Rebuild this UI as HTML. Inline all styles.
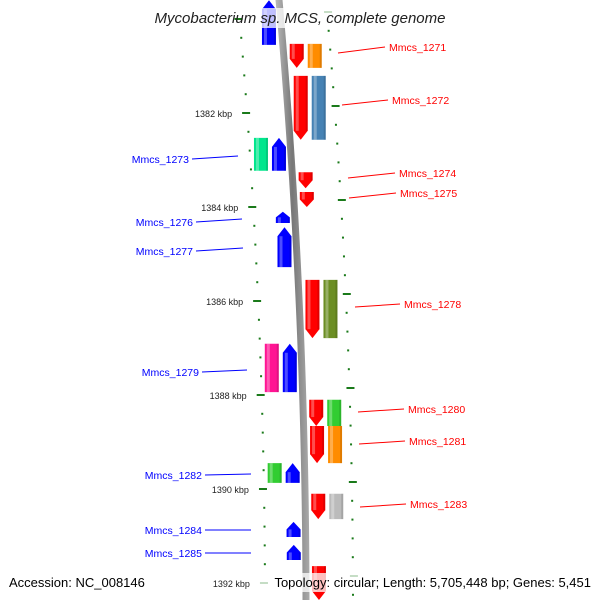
<!DOCTYPE html>
<html><head><meta charset="utf-8"><style>
body{margin:0;background:#fff;overflow:hidden}
svg{display:block;font-family:"Liberation Sans",sans-serif}
</style></head><body>
<svg id="c" width="600" height="600" viewBox="0 0 600 600" xmlns="http://www.w3.org/2000/svg">
<defs>
<linearGradient id="bb" x1="0" x2="1"><stop offset="0" stop-color="#bbb"/><stop offset="0.5" stop-color="#777"/><stop offset="1" stop-color="#aaa"/></linearGradient>
</defs>
<g id="ticks"></g>
<g id="bbg"></g>
<g id="genes"></g>
<g id="labels"></g>
<text x="300" y="23" text-anchor="middle" font-size="15" font-style="italic" fill="#222">Mycobacterium sp. MCS, complete genome</text>
<rect x="255" y="573" width="340" height="19" fill="#fff" opacity="0.75"/>
<text x="9" y="587" font-size="13" fill="#000">Accession: NC_008146</text>
<text x="591" y="587" text-anchor="end" font-size="13" fill="#000">Topology: circular; Length: 5,705,448 bp; Genes: 5,451</text>
</svg>
<script>
const geneNames=["","Mmcs_1271","Mmcs_1272","Mmcs_1273","Mmcs_1274","Mmcs_1275","Mmcs_1276","Mmcs_1277","Mmcs_1278","Mmcs_1279","Mmcs_1280","Mmcs_1281","Mmcs_1282","Mmcs_1283","Mmcs_1284","Mmcs_1285",""];
const geneStart=[1379.6,1380.53,1381.21,1382.53,1383.26,1383.68,1384.1,1384.43,1385.55,1386.91,1388.1,1388.66,1389.45,1390.1,1390.7,1391.19,1391.64];
const geneEnd=[1380.55,1381.04,1382.57,1383.23,1383.6,1384.0,1384.34,1385.28,1386.79,1387.94,1388.66,1389.45,1389.87,1390.64,1391.02,1391.51,1392.5];
const geneStrand=[-1,1,1,-1,1,1,-1,-1,1,-1,1,1,-1,1,-1,-1,1];
const geneCog=["","#ff8c00","#4682b4","#00e68c","","","","","#6b8e23","#ff1493","#32cd32","#ff8c00","#32cd32","#bbbbbb","","",""];
const tickKbp=[1382,1384,1386,1388,1390,1392];
// label layout (pixel positions for leader lines/text)
const labelPos={1:[338,53,385,47],2:[342,105,388,100],3:[238,156,192,159],4:[348,178,395,173],5:[349,198,396,193],6:[242,219,196,222],7:[243,248,196,251],8:[355,307,400,304],9:[247,370,202,372],10:[358,412,404,409],11:[359,444,405,441],12:[251,474,205,475],13:[360,507,406,504],14:[251,530,205,530],15:[251,553,205,553]};
const NS="http://www.w3.org/2000/svg";
const yOf=k=>113+(k-1382)*47;
const bx=y=>279+0.0888*y-7.3e-5*y*y;
function mk(t,a,p){const e=document.createElementNS(NS,t);for(const k in a)e.setAttribute(k,a[k]);p.appendChild(e);return e;}
const T=document.getElementById('ticks'),B=document.getElementById('bbg'),G=document.getElementById('genes'),L=document.getElementById('labels');
let pts=[];for(let y=-5;y<=600;y+=5)pts.push([bx(y),y]);
const left=pts.map(p=>(p[0]-3.5)+','+p[1]),right=pts.slice().reverse().map(p=>(p[0]+3.5)+','+p[1]);
const bb=mk('polygon',{points:left.concat(right).join(' '),fill:'url(#bb)'},B);


for(let i=-6;i<=30;i++){
  const k=1382+i*0.4;const major=Math.abs(k-Math.round(k))<1e-6&&Math.round(k)%2===0;
  const yl=yOf(k),yr=yl-7;
  const w=major?8:2;
  if(yl>2&&yl<598){
  const t1=mk('rect',{x:bx(yl)-46+(major?0:4),y:yl-1,width:w,height:2,fill:'#1a7a1a'},T);
  
  }
  if(yr>2&&yr<598){
  const t2=mk('rect',{x:bx(yr)+44+(major?0:2),y:yr-1,width:w,height:2,fill:'#1a7a1a'},T);
  
  }
}
tickKbp.forEach(k=>{const y=yOf(k);const t=mk('text',{x:bx(y)-56,y:y+4,'text-anchor':'end','font-size':9,fill:'#222'},T);t.textContent=k+' kbp';
 
 });
function box(x,y0,y1,col,dir,nm){
  const w=14,tip=dir?Math.min(9,(y1-y0)*0.5):0;let p;
  if(dir===1)p=[[x,y0],[x+w,y0],[x+w,y1-tip],[x+w/2,y1],[x,y1-tip]];
  else if(dir===-1)p=[[x,y0+tip],[x+w/2,y0],[x+w,y0+tip],[x+w,y1],[x,y1]];
  else p=[[x,y0],[x+w,y0],[x+w,y1],[x,y1]];
  const e=mk('polygon',{points:p.map(q=>q.join(',')).join(' '),fill:col},G);
  
  
  mk('rect',{x:x+2,y:y0+(dir===-1?tip:0),width:3,height:Math.max(0,y1-y0-tip),fill:'#fff',opacity:0.3},G);
  mk('rect',{x:x+w-2,y:y0+(dir===-1?tip:0),width:2,height:Math.max(0,y1-y0-tip),fill:'#000',opacity:0.12},G);
}
geneNames.forEach((n,i)=>{
  const y0=yOf(geneStart[i]),y1=Math.min(600,yOf(geneEnd[i])),ym=(y0+y1)/2,c=bx(ym);
  const s=geneStrand[i];
  if(s===1){box(c+6,y0,y1,'#f00',1,'gene-'+(n||'edge'));if(geneCog[i])box(c+24,y0,y1,geneCog[i],0,'cog-'+(n||'edge'));}
  else{box(c-19,y0,y1,'#00f',-1,'gene-'+(n||'edge'));if(geneCog[i])box(c-37,y0,y1,geneCog[i],0,'cog-'+(n||'edge'));}
  const lp=labelPos[i];
  if(lp&&n){
    const col=s===1?'#f00':'#00f';
    const ln=mk('line',{x1:lp[0],y1:lp[1],x2:lp[2],y2:lp[3],stroke:col,'stroke-width':1},L);
    
    
    const t=mk('text',{x:s===1?lp[2]+4:lp[2]-3,y:lp[3]+4,'text-anchor':s===1?'start':'end','font-size':10.5,fill:col},L);
    t.textContent=n;
    
    
  }
});
mk('rect',{x:255,y:8,width:80,height:20,fill:'#fff',opacity:0.75},G);
</script>
</body></html>
